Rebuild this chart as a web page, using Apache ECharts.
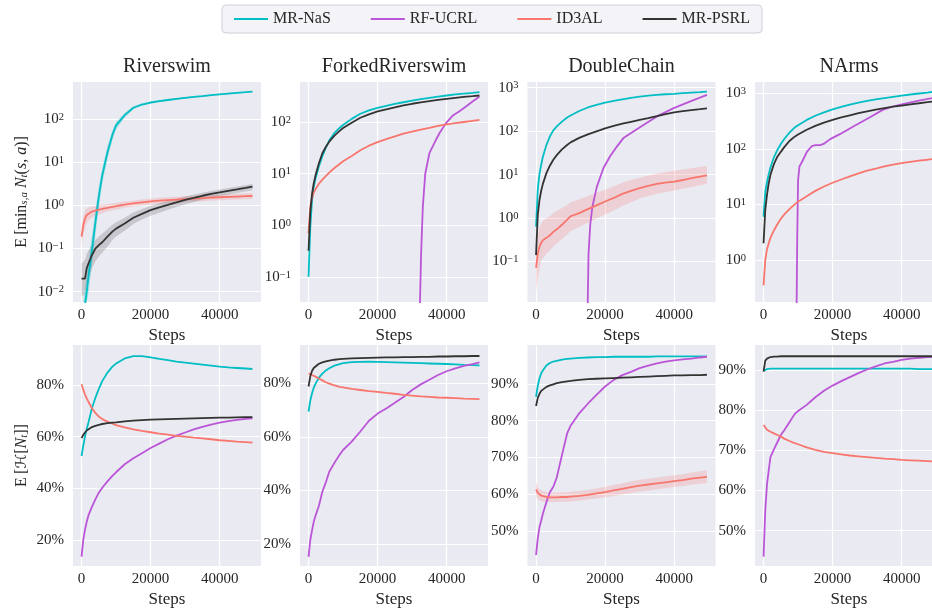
<!DOCTYPE html>
<html><head><meta charset="utf-8">
<script src="https://cdn.jsdelivr.net/npm/echarts@6/dist/echarts.min.js"></script>
<style>html,body{margin:0;padding:0;background:#fff}#c{width:932px;height:613px}</style>
</head><body><div id="c"></div>
<script>
// ---------------- data ----------------
const methods = ['MR-NaS', 'RF-UCRL', 'ID3AL', 'MR-PSRL'];
const envs = ['Riverswim', 'ForkedRiverswim', 'DoubleChain', 'NArms'];
const steps = [0, 500, 1000, 1500, 2000, 3000, 4000, 5000, 6000, 7500, 9000, 10000, 12500, 15000, 17500, 20000, 22500, 25000, 27500, 30000, 32500, 35000, 37500, 40000, 42500, 45000, 47500, 49500];
const xTicks = [0, 20000, 40000];
const logTicks = [0.01, 0.1, 1, 10, 100, 1000];
const pctTicksA = [20, 40, 60, 80];
const pctTicksB = [50, 60, 70, 80, 90];

// top row: E[min N_t(s,a)]
const rsNaS = [0.001, 0.002, 0.005, 0.01, 0.022, 0.09, 0.4, 1.6, 5, 17, 45, 72, 125, 185, 220, 245, 263, 280, 298, 315, 330, 345, 362, 380, 395, 410, 425, 440];
const rsNaSLo = [0.0005, 0.001, 0.002, 0.004, 0.009, 0.04, 0.2, 0.9, 3.2, 12, 35, 58, 110, 170, 205, 232, 250, 268, 285, 302, 317, 332, 348, 366, 380, 395, 410, 424];
const rsNaSHi = [0.004, 0.006, 0.012, 0.025, 0.05, 0.2, 0.8, 2.8, 7.5, 24, 57, 88, 140, 200, 235, 258, 276, 292, 311, 328, 343, 358, 376, 394, 410, 425, 440, 456];
const rsID3 = [0.19, 0.35, 0.5, 0.6, 0.66, 0.72, 0.76, 0.8, 0.83, 0.88, 0.93, 0.96, 1.05, 1.12, 1.18, 1.24, 1.29, 1.33, 1.37, 1.41, 1.45, 1.48, 1.52, 1.55, 1.58, 1.61, 1.64, 1.66];
const rsID3Lo = [0.11, 0.2, 0.3, 0.38, 0.45, 0.52, 0.57, 0.62, 0.66, 0.72, 0.77, 0.8, 0.88, 0.95, 1.0, 1.05, 1.1, 1.13, 1.16, 1.2, 1.23, 1.26, 1.29, 1.32, 1.35, 1.37, 1.39, 1.41];
const rsID3Hi = [0.3, 0.55, 0.75, 0.85, 0.9, 0.95, 0.98, 1.02, 1.04, 1.08, 1.12, 1.15, 1.24, 1.31, 1.38, 1.45, 1.5, 1.55, 1.6, 1.64, 1.69, 1.72, 1.77, 1.8, 1.84, 1.88, 1.91, 1.94];
const rsPSRL = [0.02, 0.02, 0.02, 0.035, 0.045, 0.07, 0.1, 0.12, 0.14, 0.19, 0.25, 0.29, 0.38, 0.52, 0.64, 0.78, 0.9, 1.03, 1.18, 1.35, 1.5, 1.68, 1.85, 2.02, 2.18, 2.35, 2.55, 2.75];
const rsPSRLLo = [0.008, 0.008, 0.009, 0.015, 0.02, 0.035, 0.05, 0.065, 0.08, 0.11, 0.16, 0.19, 0.26, 0.37, 0.47, 0.58, 0.68, 0.8, 0.92, 1.06, 1.2, 1.35, 1.5, 1.65, 1.8, 1.95, 2.1, 2.25];
const rsPSRLHi = [0.045, 0.05, 0.055, 0.075, 0.09, 0.12, 0.16, 0.19, 0.22, 0.28, 0.36, 0.41, 0.52, 0.69, 0.83, 0.98, 1.12, 1.27, 1.43, 1.62, 1.78, 1.98, 2.16, 2.35, 2.55, 2.75, 2.95, 3.2];

const frNaS = [0.1, 0.9, 3.0, 5.5, 8, 14, 22, 32, 44, 62, 78, 88, 116, 146, 170, 190, 208, 226, 244, 262, 280, 298, 315, 330, 346, 360, 372, 383];
const frPSRL = [0.32, 1.8, 4, 6.5, 9.2, 16, 25, 33, 42, 55, 68, 77, 98, 122, 142, 162, 178, 195, 212, 228, 242, 257, 271, 284, 297, 309, 320, 330];
const frID3 = [0.7, 2.3, 3.4, 4.3, 5.0, 6.4, 7.7, 9, 10.5, 12.9, 15.5, 17.5, 22, 28.5, 35, 41, 47, 53, 60, 66, 72, 78, 85, 91, 96, 101, 106, 111];
const frUCRLSteps = [32000, 32600, 33100, 33800, 35000, 36400, 37900, 39800, 41700, 43600, 45500, 47500, 49500];
const frUCRL = [0.005, 0.28, 2.3, 10, 25, 39, 61, 96, 133, 161, 200, 252, 315];

const dcNaS = [0.63, 4.5, 10.5, 17, 26, 48, 75, 104, 128, 165, 205, 228, 290, 350, 400, 450, 495, 540, 580, 620, 652, 682, 705, 720, 745, 770, 790, 810];
const dcPSRL = [0.14, 1.2, 2.6, 4.3, 6.2, 10.8, 16, 22, 28, 38, 48, 55, 70, 84, 99, 116, 132, 148, 164, 181, 200, 222, 247, 271, 288, 304, 320, 335];
const dcID3 = [0.071, 0.15, 0.22, 0.27, 0.31, 0.35, 0.4, 0.48, 0.55, 0.7, 0.92, 1.1, 1.3, 1.6, 1.95, 2.4, 2.9, 3.6, 4.2, 4.9, 5.5, 6.1, 6.5, 6.9, 7.5, 8.3, 9.0, 9.6];
const dcID3Lo = [0.02, 0.04, 0.07, 0.1, 0.12, 0.15, 0.18, 0.22, 0.26, 0.33, 0.42, 0.5, 0.62, 0.78, 0.98, 1.2, 1.5, 1.9, 2.3, 2.8, 3.2, 3.6, 3.9, 4.3, 4.7, 5.2, 5.7, 6.1];
const dcID3Hi = [0.17, 0.4, 0.6, 0.75, 0.85, 1.0, 1.1, 1.3, 1.45, 1.7, 2.0, 2.3, 2.7, 3.2, 3.8, 4.5, 5.4, 6.5, 7.5, 8.5, 9.5, 10.5, 11.5, 12.2, 13, 14, 15, 16];
const dcUCRLSteps = [14900, 15200, 15700, 16300, 17600, 19500, 21400, 23400, 25300, 28200, 31100, 34900, 39700, 44500, 49500];
const dcUCRL = [0.005, 0.15, 0.7, 1.8, 5.2, 14, 26, 44, 69, 98, 139, 215, 333, 476, 680];

const naNaS = [6, 17, 25, 35, 46, 70, 95, 122, 150, 195, 240, 265, 330, 392, 450, 510, 565, 620, 675, 725, 772, 815, 860, 905, 945, 985, 1025, 1060];
const naPSRL = [2.0, 8, 15, 24, 34, 53, 72, 88, 107, 138, 165, 180, 220, 258, 295, 330, 365, 400, 435, 470, 505, 540, 570, 598, 628, 658, 690, 715];
const naID3 = [0.35, 1.0, 1.55, 2.0, 2.5, 3.4, 4.4, 5.5, 6.6, 8.2, 10, 11.2, 14, 17.5, 21, 24.5, 28, 32, 36, 40.5, 44, 48, 52, 55, 58, 61, 63.5, 66];
const naUCRLSteps = [9300, 9550, 9750, 10000, 10400, 11200, 12600, 14000, 15000, 16400, 17400, 19300, 22100, 26000, 30700, 34500, 37500, 40000, 45000, 49500];
const naUCRL = [0.01, 0.1, 2.3, 27, 48, 59, 89, 112, 116, 116, 122, 149, 183, 251, 365, 500, 575, 630, 730, 830];

// bottom row: E[H[N_t]] in %
const rsNaSB = [52.5, 56.5, 60, 63, 65.5, 71, 75, 78.5, 81.5, 84.8, 87.2, 88.3, 90.3, 91.2, 91.2, 90.7, 90.1, 89.6, 89.1, 88.7, 88.3, 87.9, 87.5, 87.1, 86.8, 86.6, 86.4, 86.2];
const rsUCRLB = [13.5, 20, 24, 27, 29.5, 32.8, 35.7, 38.3, 40.2, 42.7, 44.9, 46.2, 49.3, 51.6, 53.6, 55.6, 57.3, 59, 60.4, 61.6, 62.8, 63.8, 64.7, 65.4, 66, 66.5, 66.9, 67.1];
const rsID3B = [80.3, 78.2, 76.3, 74.8, 73.5, 71, 69.2, 67.8, 66.8, 65.8, 65, 64.5, 63.6, 62.8, 62.2, 61.7, 61.2, 60.8, 60.3, 60, 59.6, 59.3, 59, 58.6, 58.4, 58.1, 57.9, 57.7];
const rsPSRLB = [59.4, 60.7, 61.6, 62.4, 63, 63.7, 64.2, 64.6, 64.9, 65.2, 65.4, 65.5, 65.9, 66.2, 66.4, 66.6, 66.7, 66.8, 66.9, 67, 67.1, 67.2, 67.3, 67.4, 67.4, 67.5, 67.6, 67.6];

const frNaSB = [69.4, 73.5, 76.2, 78.3, 79.8, 82.1, 83.6, 84.8, 85.6, 86.6, 87.2, 87.5, 87.9, 88, 88.1, 88, 87.9, 87.8, 87.7, 87.6, 87.5, 87.4, 87.3, 87.2, 87.1, 86.9, 86.8, 86.7];
const frUCRLB = [15.2, 21.5, 25, 28.3, 30.5, 34.3, 39.5, 43, 47, 50.3, 53.3, 55.1, 58.2, 62, 66, 68.7, 70.6, 72.7, 74.9, 77.5, 79.6, 81.3, 83.1, 84.5, 85.6, 86.5, 87.2, 87.8];
const frID3B = [83.7, 83.4, 83.1, 82.8, 82.5, 81.8, 81.1, 80.4, 79.9, 79.2, 78.7, 78.5, 77.9, 77.5, 77.1, 76.8, 76.4, 76.1, 75.7, 75.4, 75.1, 74.9, 74.7, 74.6, 74.5, 74.3, 74.2, 74.1];
const frPSRLB = [78.8, 82.6, 84.6, 85.7, 86.4, 87.3, 87.8, 88.2, 88.5, 88.8, 89, 89.1, 89.3, 89.4, 89.5, 89.6, 89.7, 89.7, 89.8, 89.8, 89.9, 89.9, 90, 90, 90.1, 90.1, 90.2, 90.2];

const dcNaSB = [86.5, 89.5, 91.5, 92.9, 93.7, 95, 95.7, 96.1, 96.3, 96.6, 96.8, 96.9, 97.1, 97.2, 97.3, 97.3, 97.4, 97.4, 97.4, 97.4, 97.4, 97.5, 97.5, 97.5, 97.5, 97.5, 97.5, 97.5];
const dcUCRLB = [43.4, 48, 51, 52.8, 54.7, 57.8, 60.5, 62, 64.5, 70.6, 76.5, 78.6, 82, 84.6, 87, 89.3, 91.1, 92.4, 93.3, 94.3, 95, 95.6, 96.1, 96.4, 96.7, 96.9, 97.2, 97.4];
const dcID3B = [61.3, 60.3, 59.8, 59.6, 59.4, 59.2, 59.1, 59.1, 59.1, 59.2, 59.2, 59.3, 59.5, 59.8, 60.2, 60.5, 61, 61.4, 61.9, 62.3, 62.6, 62.9, 63.2, 63.5, 63.8, 64.2, 64.5, 64.7];
const dcID3BLo = [59.3, 58.6, 58.3, 58.1, 58, 57.9, 57.8, 57.8, 57.8, 57.9, 57.9, 58, 58.2, 58.5, 58.8, 59.1, 59.5, 59.9, 60.3, 60.7, 61, 61.3, 61.6, 61.9, 62.2, 62.5, 62.8, 63];
const dcID3BHi = [63.3, 62, 61.3, 61.1, 60.8, 60.5, 60.4, 60.4, 60.4, 60.5, 60.5, 60.6, 60.8, 61.1, 61.6, 61.9, 62.5, 62.9, 63.5, 63.9, 64.2, 64.5, 64.8, 65.1, 65.4, 65.9, 66.2, 66.4];
const dcPSRLB = [84, 86.2, 87.3, 88.1, 88.6, 89.2, 89.6, 89.9, 90.2, 90.5, 90.7, 90.8, 91.1, 91.3, 91.4, 91.5, 91.6, 91.7, 91.8, 91.9, 92, 92.1, 92.2, 92.3, 92.3, 92.4, 92.4, 92.5];

const naNaSB = [89.8, 90, 90.2, 90.3, 90.3, 90.3, 90.3, 90.3, 90.3, 90.3, 90.3, 90.3, 90.3, 90.3, 90.3, 90.3, 90.3, 90.3, 90.3, 90.3, 90.3, 90.3, 90.3, 90.3, 90.3, 90.2, 90.2, 90.2];
const naUCRLB = [43.5, 55, 61.5, 65, 68.3, 70.2, 72, 73.8, 75, 77, 79, 79.8, 81.3, 83.2, 84.8, 86.1, 87.2, 88.2, 89.2, 90.1, 90.9, 91.6, 92, 92.5, 92.8, 93, 93.2, 93.3];
const naID3B = [76.3, 75.7, 75.1, 74.8, 74.6, 74.2, 73.8, 73.4, 72.9, 72.3, 71.8, 71.5, 70.7, 70.1, 69.6, 69.3, 69, 68.7, 68.5, 68.3, 68.1, 67.9, 67.8, 67.6, 67.5, 67.4, 67.3, 67.2];
const naPSRLB = [89.6, 92.3, 92.8, 93, 93.2, 93.3, 93.3, 93.4, 93.4, 93.4, 93.4, 93.4, 93.4, 93.4, 93.4, 93.4, 93.4, 93.4, 93.4, 93.4, 93.4, 93.4, 93.4, 93.4, 93.4, 93.4, 93.4, 93.4];

// axis ranges
const xRange = [-2475, 51975];
const topYRange = [[0.00575, 733], [0.0324, 603], [0.0117, 1349], [0.176, 1585]];
const botYRange = [[9.9, 95.5], [11.8, 94.3], [40.4, 100.6], [41.2, 96.2]];

// ---------------- styling ----------------
const FONT = '"Liberation Serif","DejaVu Serif",serif';
const TXT = '#262626';
const COLORS = { 'MR-NaS': '#00bec4', 'RF-UCRL': '#bb55d8', 'ID3AL': '#f8766d', 'MR-PSRL': '#333333' };
const BANDS = { 'MR-NaS': 'rgba(0,190,196,0.28)', 'ID3AL': 'rgba(248,118,109,0.22)', 'MR-PSRL': 'rgba(60,60,60,0.2)' };
const lefts = [73, 300, 527.5, 755], tops = [82, 345], W = 188, Hs = [220, 221];

const grids = [], xAxes = [], yAxes = [], series = [], graphics = [];

function zip(xs, ys) { return xs.map((x, i) => [x, ys[i]]); }
function lineS(name, xs, ys, gi) {
  return { type: 'line', name, xAxisIndex: gi, yAxisIndex: gi, data: zip(xs, ys), symbol: 'none', showSymbol: false,
    lineStyle: { color: COLORS[name], width: 1.8 }, itemStyle: { color: COLORS[name] }, z: 3, silent: true, clip: true, animation: false };
}
// confidence band drawn as one polygon through the axes' own coordinate mapping
function bandS(name, xs, lo, hi, gi) {
  return {
    type: 'custom', xAxisIndex: gi, yAxisIndex: gi, silent: true, z: 1, animation: false,
    data: [[xs[0], lo[0]]],
    renderItem: (params, api) => {
      const cs = params.coordSys;
      const clampY = y => Math.max(cs.y, Math.min(cs.y + cs.height, y));
      const pts = [];
      xs.forEach((x, i) => { const p = api.coord([x, hi[i]]); pts.push([p[0], clampY(p[1])]); });
      for (let i = xs.length - 1; i >= 0; i--) { const p = api.coord([xs[i], lo[i]]); pts.push([p[0], clampY(p[1])]); }
      return { type: 'polygon', shape: { points: pts }, style: { fill: BANDS[name] } };
    }
  };
}
const supMinus = e => (e < 0 ? '\u2212' + (-e) : '' + e);

for (let r = 0; r < 2; r++) {
  for (let c = 0; c < 4; c++) {
    const gi = r * 4 + c;
    grids.push({ left: lefts[c], top: tops[r], width: W, height: Hs[r], show: true, backgroundColor: '#EAEAF2', borderWidth: 0, containLabel: false, outerBoundsMode: 'none' });
    xAxes.push({
      type: 'value', gridIndex: gi, min: xRange[0], max: xRange[1],
      axisLine: { show: false }, axisTick: { show: false, customValues: xTicks },
      axisLabel: { customValues: xTicks, margin: 6, fontFamily: FONT, fontSize: 15, color: TXT, formatter: v => String(Math.round(v)) },
      splitLine: { show: true, lineStyle: { color: '#ffffff', width: 1.2 } },
      name: 'Steps', nameLocation: 'middle', nameGap: 25, nameTextStyle: { fontFamily: FONT, fontSize: 17, color: TXT }
    });
    if (r === 0) {
      const rng = topYRange[c];
      const tv = logTicks.filter(v => v >= rng[0] && v <= rng[1]);
      const ya = {
        type: 'log', logBase: 10, gridIndex: gi, min: rng[0], max: rng[1],
        axisLine: { show: false }, axisTick: { show: false, customValues: tv },
        axisLabel: {
          customValues: tv, margin: 9, color: TXT,
          formatter: v => '{b|10}{s|' + supMinus(Math.round(Math.log10(v))) + '}',
          rich: { b: { fontFamily: FONT, fontSize: 15, color: TXT }, s: { fontFamily: FONT, fontSize: 10.5, color: TXT, verticalAlign: 'top' } }
        },
        splitLine: { show: true, lineStyle: { color: '#ffffff', width: 1.2 } }
      };
      if (c === 0) {
        ya.name = '{t|E\u2009[min}{u|s,a}{t| }{i|N}{u|t}{t|(}{i|s}{t|, }{i|a}{t|)]}';
        ya.nameLocation = 'middle'; ya.nameGap = 43; ya.nameRotate = 90;
        ya.nameTextStyle = { rich: {
          t: { fontFamily: FONT, fontSize: 16, color: TXT },
          i: { fontFamily: FONT, fontSize: 16, fontStyle: 'italic', color: TXT },
          u: { fontFamily: FONT, fontSize: 11, fontStyle: 'italic', color: TXT, verticalAlign: 'bottom' } } };
      }
      yAxes.push(ya);
    } else {
      const rng = botYRange[c];
      const tv = (c < 2 ? pctTicksA : pctTicksB).filter(v => v >= rng[0] && v <= rng[1]);
      const ya = {
        type: 'value', gridIndex: gi, min: rng[0], max: rng[1],
        axisLine: { show: false }, axisTick: { show: false, customValues: tv },
        axisLabel: { customValues: tv, margin: 9, fontFamily: FONT, fontSize: 15, color: TXT, formatter: v => Math.round(v) + '%' },
        splitLine: { show: true, lineStyle: { color: '#ffffff', width: 1.2 } }
      };
      if (c === 0) {
        ya.name = '{t|E\u2009[}{h|\u210B}{t|[}{i|N}{u|t}{t|]]}';
        ya.nameLocation = 'middle'; ya.nameGap = 43; ya.nameRotate = 90;
        ya.nameTextStyle = { rich: {
          t: { fontFamily: FONT, fontSize: 16, color: TXT },
          h: { fontFamily: '"DejaVu Serif","DejaVu Sans",serif', fontSize: 15, color: TXT },
          i: { fontFamily: FONT, fontSize: 16, fontStyle: 'italic', color: TXT },
          u: { fontFamily: FONT, fontSize: 11, fontStyle: 'italic', color: TXT, verticalAlign: 'bottom' } } };
      }
      yAxes.push(ya);
    }
  }
}

// titles
envs.forEach((t, c) => {
  graphics.push({ type: 'text', x: lefts[c] + W / 2, y: 67, silent: true,
    style: { text: t, font: '20px ' + FONT, fill: TXT, align: 'center', verticalAlign: 'middle', textAlign: 'center', textVerticalAlign: 'middle' } });
});

// ---- series: top row ----
// Riverswim
series.push(bandS('MR-NaS', steps, rsNaSLo, rsNaSHi, 0));
series.push(bandS('ID3AL', steps, rsID3Lo, rsID3Hi, 0));
series.push(bandS('MR-PSRL', steps, rsPSRLLo, rsPSRLHi, 0));
series.push(lineS('MR-NaS', steps, rsNaS, 0));
series.push(lineS('ID3AL', steps, rsID3, 0));
series.push(lineS('MR-PSRL', steps, rsPSRL, 0));
// ForkedRiverswim
series.push(lineS('MR-NaS', steps, frNaS, 1));
series.push(lineS('RF-UCRL', frUCRLSteps, frUCRL, 1));
series.push(lineS('ID3AL', steps, frID3, 1));
series.push(lineS('MR-PSRL', steps, frPSRL, 1));
// DoubleChain
series.push(bandS('ID3AL', steps, dcID3Lo, dcID3Hi, 2));
series.push(lineS('MR-NaS', steps, dcNaS, 2));
series.push(lineS('RF-UCRL', dcUCRLSteps, dcUCRL, 2));
series.push(lineS('ID3AL', steps, dcID3, 2));
series.push(lineS('MR-PSRL', steps, dcPSRL, 2));
// NArms
series.push(lineS('MR-NaS', steps, naNaS, 3));
series.push(lineS('RF-UCRL', naUCRLSteps, naUCRL, 3));
series.push(lineS('ID3AL', steps, naID3, 3));
series.push(lineS('MR-PSRL', steps, naPSRL, 3));

// ---- series: bottom row ----
series.push(lineS('MR-NaS', steps, rsNaSB, 4));
series.push(lineS('RF-UCRL', steps, rsUCRLB, 4));
series.push(lineS('ID3AL', steps, rsID3B, 4));
series.push(lineS('MR-PSRL', steps, rsPSRLB, 4));

series.push(lineS('MR-NaS', steps, frNaSB, 5));
series.push(lineS('RF-UCRL', steps, frUCRLB, 5));
series.push(lineS('ID3AL', steps, frID3B, 5));
series.push(lineS('MR-PSRL', steps, frPSRLB, 5));

series.push(bandS('ID3AL', steps, dcID3BLo, dcID3BHi, 6));
series.push(lineS('MR-NaS', steps, dcNaSB, 6));
series.push(lineS('RF-UCRL', steps, dcUCRLB, 6));
series.push(lineS('ID3AL', steps, dcID3B, 6));
series.push(lineS('MR-PSRL', steps, dcPSRLB, 6));

series.push(lineS('MR-NaS', steps, naNaSB, 7));
series.push(lineS('RF-UCRL', steps, naUCRLB, 7));
series.push(lineS('ID3AL', steps, naID3B, 7));
series.push(lineS('MR-PSRL', steps, naPSRLB, 7));

const chart = echarts.init(document.getElementById('c'), null, { renderer: 'canvas' });
chart.setOption({
  animation: false,
  backgroundColor: '#ffffff',
  legend: {
    data: methods.map(n => ({ name: n, icon: 'rect', itemStyle: { color: COLORS[n] } })),
    left: 222, top: 5, itemWidth: 34, itemHeight: 2, itemGap: 40,
    padding: [6, 12], backgroundColor: 'rgba(234,234,242,0.55)', borderColor: '#cfcfd6', borderWidth: 1, borderRadius: 4,
    textStyle: { fontFamily: FONT, fontSize: 16, color: TXT }, selectedMode: false
  },
  grid: grids, xAxis: xAxes, yAxis: yAxes, series: series, graphic: graphics
});
</script>
</body></html>
